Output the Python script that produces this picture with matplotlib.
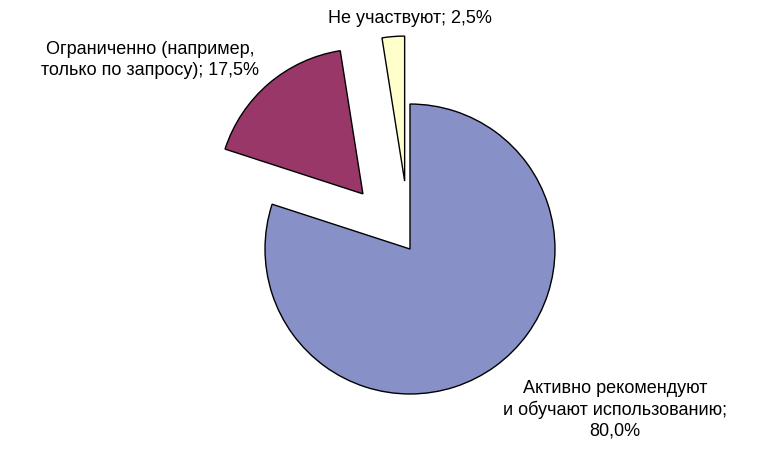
import matplotlib
matplotlib.use("Agg")
import matplotlib.pyplot as plt

labels = ["Активно рекомендуют\nи обучают использованию;\n80,0%",
          "Ограниченно (например,\nтолько по запросу); 17,5%",
          "Не участвуют; 2,5%"]
values = [80.0, 17.5, 2.5]
colors = ["#8890C8", "#993868", "#FFFFCC"]
explode = [0.0, 0.5, 0.47]
label_pos = [(1.414, -1.10), (-1.79, 1.31), (0.0, 1.60)]

plt.rcParams["font.family"] = ["Liberation Sans", "DejaVu Sans"]

fig = plt.figure(figsize=(7.72, 4.6), dpi=100)
ax = fig.add_axes([0, 0, 1, 1])
ax.pie(values, colors=colors, explode=explode, startangle=90, counterclock=False,
       radius=1.0, wedgeprops=dict(edgecolor="black", linewidth=1.0))
for lab, (x, y) in zip(labels, label_pos):
    ax.text(x, y, lab, ha="center", va="center", fontsize=13, linespacing=1.25)

ax.set_xlim(-2.828, 2.497)
ax.set_ylim(-1.448, 1.724)
ax.set_aspect("equal")
ax.axis("off")
fig.savefig("out.png", dpi=100)
